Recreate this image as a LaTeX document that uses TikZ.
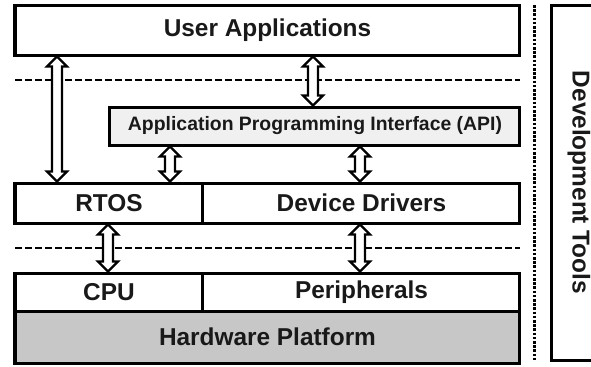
\documentclass[tikz,border=0pt]{standalone}
\usepackage{fontspec}
\setmainfont{Liberation Sans}
\usetikzlibrary{calc,positioning}

\definecolor{apigray}{gray}{0.94}
\definecolor{hwgray}{gray}{0.78}

% hollow two-headed arrow: x (px), upper anchor, lower anchor
\newcommand{\fatarrow}[3]{%
	\draw[fatarr] let \p1=(#2), \p2=(#3), \p3=(#1*0.5pt,0pt) in
		(\x3,\y1-0.75pt) -- ++(5pt,-5pt) -- ++(-2.5pt,0pt) -- (\x3+2.5pt,\y2+5.75pt) -- ++(2.5pt,0pt)
		-- (\x3,\y2+0.75pt) -- ++(-5pt,5pt) -- ++(2.5pt,0pt) -- (\x3-2.5pt,\y1-5.75pt) -- ++(-2.5pt,0pt) -- cycle;}

\begin{document}
\begin{tikzpicture}[x=0.5pt,y=-0.5pt,
		box/.style={draw,line width=1.5pt,outer sep=0pt,inner sep=0pt,text=black!90,font=\bfseries\fontsize{12.2}{14}\selectfont},
		sepline/.style={line width=1.4pt,dash pattern=on 3.5pt off 1.5pt},
		dotline/.style={line width=1.5pt,dash pattern=on 1.3pt off 0.8pt},
		fatarr/.style={draw,fill=white,line width=1.1pt,line join=miter}]
		\useasboundingbox (0,0) rectangle (591,366);
		\node[box,minimum width=252.5pt,minimum height=25pt] (UA) at (267.5,30) {User Applications};
		\node[box,fill=apigray,minimum width=205pt,minimum height=19pt,font=\bfseries\fontsize{9.7}{11}\selectfont] (API) at (315,126) {Application Programming Interface (API)};
		\node[box,minimum width=94pt,minimum height=20pt] (RTOS) at (109,203) {RTOS};
		\node[box,minimum width=158.5pt,minimum height=20pt] (DD) [right=0pt of RTOS] {Device Drivers};
		\node[box,minimum width=94pt,minimum height=19pt] (CPU) at (109,292) {CPU};
		\node[box,minimum width=158.5pt,minimum height=19pt] (PER) [right=0pt of CPU] {Peripherals};
		\node[box,fill=hwgray,anchor=north west,minimum width=252.5pt,minimum height=26pt] (HW) at (CPU.south west) {Hardware Platform};
		\node[box,rotate=-90,minimum width=177.5pt,minimum height=27pt] (DEV) at (579,182.5) {Development Tools};

		\draw[sepline] (15,80) -- (520,80);
		\draw[sepline] (15,248) -- (520,248);
		\draw[dotline] (535,5) -- (535,361);

		\fatarrow{57}{UA.south}{RTOS.north}
		\fatarrow{313}{UA.south}{API.north}
		\fatarrow{170}{API.south}{RTOS.north}
		\fatarrow{360}{API.south}{DD.north}
		\fatarrow{108}{RTOS.south}{CPU.north}
		\fatarrow{360}{DD.south}{PER.north}
	\end{tikzpicture}
\end{document}
